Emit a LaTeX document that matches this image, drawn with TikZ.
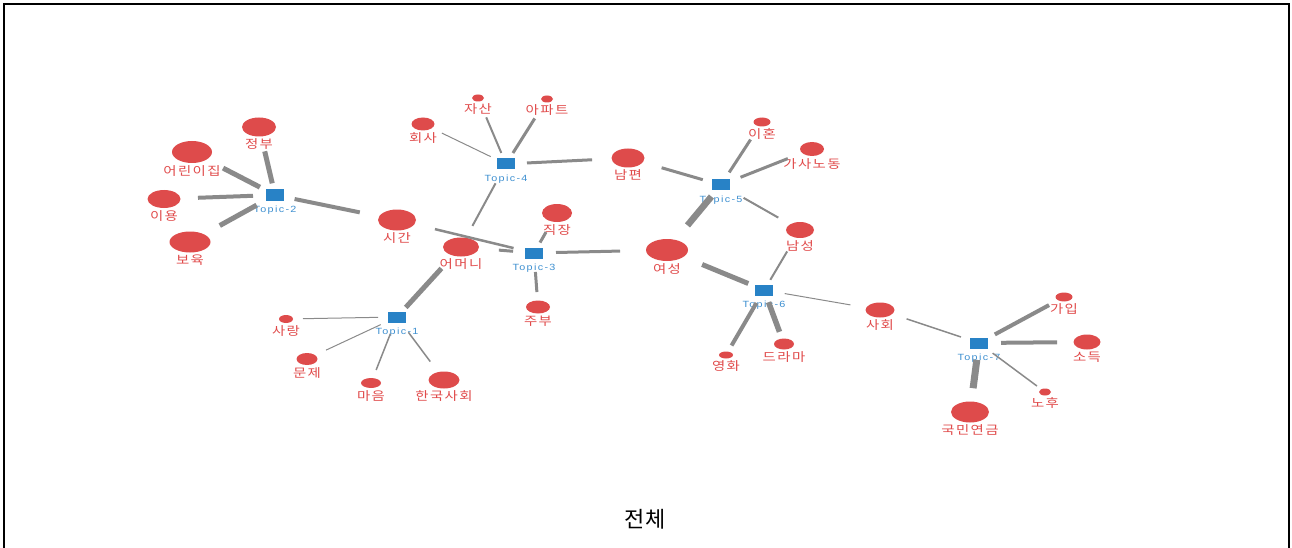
\documentclass[tikz,border=0pt]{standalone}
\usepackage{fontspec}
\usetikzlibrary{shapes.geometric}
\newfontfamily\kfont{Noto Sans CJK KR}[FakeStretch=1.2, LetterSpace=12]
\newfontfamily\topicfont{Liberation Sans}[FakeStretch=1.2, LetterSpace=15]
\newfontfamily\titlefont{Noto Sans CJK KR}
\definecolor{wred}{HTML}{DE4B4B}
\definecolor{wtext}{HTML}{E04A4A}
\definecolor{tblue}{HTML}{2882C6}
\definecolor{ttext}{HTML}{3D8FD0}
\definecolor{egray}{HTML}{8A8A8A}
\tikzset{
  word/.style n args={2}{ellipse, fill=wred, draw=none, inner sep=0pt,
    minimum width=#1pt, minimum height=#2pt},
  wl/.style={font=\kfont\fontsize{12}{12}\selectfont, text=wtext, inner sep=0pt,
    text height=9pt, text depth=1pt, label distance=3pt},
  topic/.style={rectangle, fill=tblue, inner sep=0pt, minimum width=18pt, minimum height=11pt},
  tl/.style={font=\topicfont\fontsize{9}{9}\selectfont, text=ttext, inner sep=0pt,
    text height=6.5pt, text depth=2pt, label distance=5pt},
  edge/.style={draw=egray, line cap=butt},
  frame/.style={draw=black, line width=1.4pt},
  title/.style={font=\titlefont\fontsize{22}{22}\selectfont, text=black, inner sep=0pt}
}
\begin{document}
\begin{tikzpicture}[x=1pt, y=-1pt]
\useasboundingbox (0,0) rectangle (1292,548);
% outer frame (open at the bottom)
\draw[frame] (4,548) -- (4,4) -- (1289,4) -- (1289,548);

% topic squares
\node[topic, label={[tl]below:Topic-1}] (t1) at (397,317) {};
\node[topic, label={[tl]below:Topic-2}] (t2) at (275,195) {};
\node[topic, label={[tl]below:Topic-3}] (t3) at (534,253) {};
\node[topic, label={[tl]below:Topic-4}] (t4) at (506,164) {};
\node[topic, label={[tl]below:Topic-5}] (t5) at (721,185) {};
\node[topic, label={[tl]below:Topic-6}] (t6) at (764,290) {};
\node[topic, label={[tl]below:Topic-7}] (t7) at (979,343) {};

% word nodes
\node[word={34}{19}, label={[wl]below:정부}] (jeongbu) at (259,127) {};
\node[word={40}{22}, label={[wl]below:어린이집}] (eorini) at (192,152) {};
\node[word={33}{18}, label={[wl]below:이용}] (iyong) at (164,199) {};
\node[word={41}{21}, label={[wl]below:보육}] (boyuk) at (190,242) {};
\node[word={38}{21}, label={[wl]below:시간}] (sigan) at (397,220) {};
\node[word={12}{7}, label={[wl]below:자산}] (jasan) at (478,98) {};
\node[word={12}{7}, label={[wl]below:아파트}] (apateu) at (547,99) {};
\node[word={23}{13}, label={[wl]below:회사}] (hoesa) at (423,124) {};
\node[word={33}{19}, label={[wl]below:남편}] (nampyeon) at (628,158) {};
\node[word={17}{9}, label={[wl]below:이혼}] (ihon) at (762,122) {};
\node[word={24}{14}, label={[wl]below:가사노동}] (gasa) at (812,149) {};
\node[word={28}{16}, label={[wl]below:남성}] (namseong) at (800,230) {};
\node[word={42}{22}, label={[wl]below:여성}] (yeoseong) at (667,250) {};
\node[word={30}{18}, label={[wl]below:직장}] (jikjang) at (557,213) {};
\node[word={24}{13}, label={[wl]below:주부}] (jubu) at (538,307) {};
\node[word={36}{19}, label={[wl]below:어머니}] (eomeoni) at (461,247) {};
\node[word={14}{8}, label={[wl]below:사랑}] (sarang) at (286,319) {};
\node[word={21}{12}, label={[wl]below:문제}] (munje) at (307,359) {};
\node[word={20}{10}, label={[wl]below:마음}] (maeum) at (371,383) {};
\node[word={31}{17}, label={[wl]below:한국사회}] (hanguk) at (444,380) {};
\node[word={14}{7}, label={[wl]below:영화}] (yeonghwa) at (726,355) {};
\node[word={20}{11}, label={[wl]below:드라마}] (deurama) at (784,344) {};
\node[word={29}{15}, label={[wl]below:사회}] (sahoe) at (880,310) {};
\node[word={17}{9}, label={[wl]below:가입}] (gaip) at (1064,297) {};
\node[word={27}{15}, label={[wl]below:소득}] (sodeuk) at (1087,342) {};
\node[word={12}{7}, label={[wl]below:노후}] (nohu) at (1045,392) {};
\node[word={38}{21}, label={[wl]below:국민연금}] (gukmin) at (970,412) {};

% Topic-2
\draw[edge, line width=5pt, shorten <=12pt, shorten >=25pt] (t2.center) -- (jeongbu.center);
\draw[edge, line width=5pt, shorten <=17pt, shorten >=35pt] (t2.center) -- (eorini.center);
\draw[edge, line width=4pt, shorten <=22pt, shorten >=34pt] (t2.center) -- (iyong.center);
\draw[edge, line width=5pt, shorten <=21pt, shorten >=34pt] (t2.center) -- (boyuk.center);
\draw[edge, line width=4pt, shorten <=20pt, shorten >=38pt] (t2.center) -- (sigan.center);
% Topic-4
\draw[edge, line width=1pt, shorten <=17pt, shorten >=21pt] (t4.center) -- (hoesa.center);
\draw[edge, line width=2pt, shorten <=12pt, shorten >=21pt] (t4.center) -- (jasan.center);
\draw[edge, line width=3pt, shorten <=13pt, shorten >=23pt] (t4.center) -- (apateu.center);
\draw[edge, line width=3pt, shorten <=21pt, shorten >=36pt] (t4.center) -- (nampyeon.center);
\draw[edge, line width=2pt, shorten <=22pt, shorten >=24pt] (t4.center) -- (eomeoni.center);
% Topic-5
\draw[edge, line width=3pt, shorten <=19pt, shorten >=35pt] (t5.center) -- (nampyeon.center);
\draw[edge, line width=3pt, shorten <=15pt, shorten >=21pt] (t5.center) -- (ihon.center);
\draw[edge, line width=3pt, shorten <=21pt, shorten >=26pt] (t5.center) -- (gasa.center);
\draw[edge, line width=2pt, shorten <=26pt, shorten >=25pt] (t5.center) -- (namseong.center);
\draw[edge, line width=6.5pt, shorten <=15pt, shorten >=32pt] (t5.center) -- (yeoseong.center);
% Topic-3
\draw[edge, line width=3pt, shorten <=12pt, shorten >=22pt] (t3.center) -- (jikjang.center);
\draw[edge, line width=3pt, shorten <=19pt, shorten >=15pt] (t3.center) -- (jubu.center);
\draw[edge, line width=3pt, shorten <=22pt, shorten >=47pt] (t3.center) -- (yeoseong.center);
\draw[edge, line width=2.5pt, shorten <=21pt, shorten >=39pt] (t3.center) -- (sigan.center);
\draw[edge, line width=3pt, shorten <=21pt, shorten >=38pt] (t3.center) -- (eomeoni.center);
% Topic-1
\draw[edge, line width=5pt, shorten <=13pt, shorten >=29pt] (t1.center) -- (eomeoni.center);
\draw[edge, line width=1pt, shorten <=19pt, shorten >=17pt] (t1.center) -- (sarang.center);
\draw[edge, line width=1pt, shorten <=18pt, shorten >=21pt] (t1.center) -- (munje.center);
\draw[edge, line width=1.5pt, shorten <=18pt, shorten >=14pt] (t1.center) -- (maeum.center);
\draw[edge, line width=1.5pt, shorten <=19pt, shorten >=23pt] (t1.center) -- (hanguk.center);
% Topic-6
\draw[edge, line width=5pt, shorten <=17pt, shorten >=38pt] (t6.center) -- (yeoseong.center);
\draw[edge, line width=2pt, shorten <=12pt, shorten >=25pt] (t6.center) -- (namseong.center);
\draw[edge, line width=1pt, shorten <=21pt, shorten >=30pt] (t6.center) -- (sahoe.center);
\draw[edge, line width=4pt, shorten <=15pt, shorten >=11pt] (t6.center) -- (yeonghwa.center);
\draw[edge, line width=5.5pt, shorten <=13pt, shorten >=13pt] (t6.center) -- (deurama.center);
% Topic-7
\draw[edge, line width=1.5pt, shorten <=19pt, shorten >=28pt] (t7.center) -- (sahoe.center);
\draw[edge, line width=4pt, shorten <=18pt, shorten >=17pt] (t7.center) -- (gaip.center);
\draw[edge, line width=4pt, shorten <=22pt, shorten >=30pt] (t7.center) -- (sodeuk.center);
\draw[edge, line width=1.5pt, shorten <=17pt, shorten >=10pt] (t7.center) -- (nohu.center);
\draw[edge, line width=7pt, shorten <=17pt, shorten >=24pt] (t7.center) -- (gukmin.center);

% caption
\node[title] (title) at (645,519) {전체};
\end{tikzpicture}
\end{document}
